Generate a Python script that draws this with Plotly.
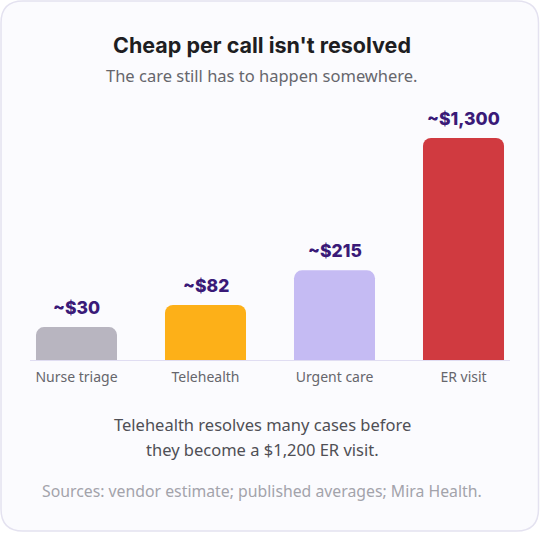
import math
import plotly.graph_objects as go

categories = ["Nurse triage", "Telehealth", "Urgent care", "ER visit"]
costs = [30, 82, 215, 1300]
value_labels = ["~$30", "~$82", "~$215", "~$1,300"]
bar_colors = ["#b8b5c0", "#fdb018", "#c5bbf3", "#d03a40"]

W, H = 540, 533
ML, MR, MT, MB = 12, 12, 100, 172
PW, PH = W - ML - MR, H - MT - MB

heights = [math.sqrt(v) for v in costs]  # sqrt scale
ymax = 42.2

def px(xp):
    return (xp - ML) / PW

def py(yp):
    return (H - MB - yp) / PH

fig = go.Figure()
fig.add_trace(go.Bar(
    x=categories, y=heights, width=0.628,
    marker=dict(color=bar_colors, line=dict(width=0)),
    hoverinfo="skip",
))

# card background with rounded corners (pixel -> paper)
x0, x1, y0, y1, r = 1.0, 538.5, 1.0, 531.0, 22
pts = [
    f"M {px(x0 + r)},{py(y0)}",
    f"L {px(x1 - r)},{py(y0)}",
    f"Q {px(x1)},{py(y0)} {px(x1)},{py(y0 + r)}",
    f"L {px(x1)},{py(y1 - r)}",
    f"Q {px(x1)},{py(y1)} {px(x1 - r)},{py(y1)}",
    f"L {px(x0 + r)},{py(y1)}",
    f"Q {px(x0)},{py(y1)} {px(x0)},{py(y1 - r)}",
    f"L {px(x0)},{py(y0 + r)}",
    f"Q {px(x0)},{py(y0)} {px(x0 + r)},{py(y0)} Z",
]
fig.add_shape(type="path", xref="paper", yref="paper", path=" ".join(pts),
              fillcolor="#fbfbfe", line=dict(color="#e4e2f0", width=1.5), layer="below")

# baseline
fig.add_shape(type="line", xref="paper", yref="y", x0=px(30), x1=px(510), y0=0, y1=0,
              line=dict(color="#e0ddf2", width=2), layer="above")

for c, h, t in zip(categories, heights, value_labels):
    fig.add_annotation(x=c, y=h, text=t, showarrow=False, yanchor="bottom", yshift=7,
                       font=dict(family="Inter", size=17.5, color="#3a1a78", weight=800))

texts = [
    ("<b>Cheap per call isn't resolved</b>", 45, "Inter", 21.5, "#1e1e22"),
    ("The care still has to happen somewhere.", 76, "Noto Sans", 16.5, "#66666c"),
    ("Telehealth resolves many cases before", 424, "Noto Sans", 16.5, "#4f4f55"),
    ("they become a $1,200 ER visit.", 449, "Noto Sans", 16.5, "#4f4f55"),
    ("Sources: vendor estimate; published averages; Mira Health.", 491, "Noto Sans", 15.8, "#a3a3ab"),
]
for t, yc, fam, sz, col in texts:
    fig.add_annotation(xref="paper", yref="paper", x=px(262), y=py(yc), text=t, showarrow=False,
                       xanchor="center", yanchor="middle",
                       font=dict(family=fam, size=sz, color=col))

fig.update_layout(
    width=W, height=H, margin=dict(l=ML, r=MR, t=MT, b=MB),
    paper_bgcolor="white", plot_bgcolor="rgba(0,0,0,0)",
    showlegend=False, barcornerradius=8,
    xaxis=dict(range=[-0.5, 3.5], showgrid=False, zeroline=False, showline=False, ticks="",
               ticklabelstandoff=6,
               tickfont=dict(family="Noto Sans", size=14, color="#66666c"), fixedrange=True),
    yaxis=dict(range=[0, ymax], visible=False, fixedrange=True),
)

fig.write_html("out.html")
